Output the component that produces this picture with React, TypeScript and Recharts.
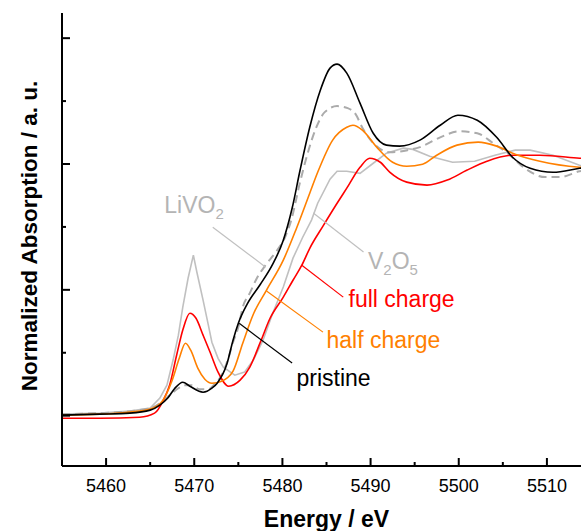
import React from "react";
import { LineChart, Line, XAxis, YAxis, ReferenceLine, ReferenceDot } from "recharts";

// Energy (eV), normalized absorption (a.u.)
const pristine: [number, number][] = [
  [5455.0, 0.002], [5459.3, 0.006], [5462.7, 0.01], [5465.0, 0.022], [5466.1, 0.042], [5467.0, 0.07],
  [5467.8, 0.109], [5468.7, 0.133], [5469.5, 0.117], [5471.0, 0.093], [5472.0, 0.109], [5472.6, 0.129],
  [5473.7, 0.205], [5474.4, 0.3], [5475.0, 0.367], [5476.0, 0.443], [5477.5, 0.522], [5478.9, 0.602],
  [5480.1, 0.697], [5481.1, 0.824], [5482.0, 0.975], [5483.1, 1.146], [5484.3, 1.293], [5485.4, 1.381],
  [5486.2, 1.397], [5487.3, 1.361], [5488.8, 1.242], [5490.3, 1.122], [5491.8, 1.075], [5493.3, 1.071],
  [5495.6, 1.095], [5497.9, 1.154], [5499.9, 1.194], [5502.1, 1.174], [5504.3, 1.106], [5506.1, 1.027],
  [5508.1, 0.983], [5510.7, 0.967], [5513.7, 0.983], [5514.5, 0.987],
];

const fullCharge: [number, number][] = [
  [5455.0, -0.01], [5459.3, -0.01], [5463.8, -0.006], [5465.5, 0.01], [5466.5, 0.062], [5467.2, 0.121],
  [5468.0, 0.24], [5468.7, 0.34], [5469.5, 0.407], [5470.2, 0.387], [5471.0, 0.32], [5471.8, 0.252],
  [5472.7, 0.173], [5473.9, 0.117], [5475.2, 0.141], [5476.3, 0.193], [5477.5, 0.292], [5478.6, 0.387],
  [5480.1, 0.471], [5481.2, 0.538], [5482.2, 0.598], [5483.1, 0.665], [5484.6, 0.753], [5486.2, 0.844],
  [5487.3, 0.904], [5488.8, 0.987], [5489.9, 1.023], [5491.1, 1.007], [5492.2, 0.967], [5494.1, 0.928],
  [5496.4, 0.916], [5498.7, 0.936], [5500.9, 0.975], [5503.2, 1.011], [5506.1, 1.035], [5509.2, 1.035],
  [5513.7, 1.023], [5514.5, 1.021],
];

const halfCharge: [number, number][] = [
  [5455.0, 0.002], [5459.3, 0.006], [5462.7, 0.014], [5465.0, 0.026], [5466.3, 0.054], [5467.5, 0.141],
  [5468.3, 0.228], [5469.0, 0.288], [5469.6, 0.26], [5470.4, 0.189], [5471.2, 0.145], [5472.0, 0.129],
  [5473.1, 0.137], [5474.4, 0.177], [5475.5, 0.288], [5476.7, 0.403], [5478.2, 0.499], [5480.1, 0.618],
  [5481.6, 0.745], [5483.1, 0.884], [5484.0, 0.967], [5485.7, 1.095], [5487.3, 1.146], [5488.0, 1.154],
  [5489.1, 1.134], [5490.7, 1.067], [5492.5, 1.007], [5494.1, 0.991], [5495.9, 0.999], [5497.5, 1.035],
  [5499.8, 1.075], [5502.2, 1.087], [5504.3, 1.071], [5506.4, 1.039], [5509.2, 1.011], [5513.7, 0.987],
  [5514.5, 0.985],
];

const v2o5: [number, number][] = [
  [5455.0, 0.006], [5459.3, 0.01], [5462.7, 0.018], [5465.0, 0.03], [5466.1, 0.07], [5466.9, 0.121],
  [5467.6, 0.221], [5468.2, 0.32], [5468.7, 0.431], [5469.3, 0.546], [5469.9, 0.638], [5470.3, 0.57],
  [5471.0, 0.459], [5471.6, 0.36], [5472.0, 0.292], [5472.7, 0.228], [5473.3, 0.193], [5474.6, 0.161],
  [5475.7, 0.173], [5476.7, 0.221], [5477.8, 0.3], [5478.9, 0.407], [5480.1, 0.511], [5481.2, 0.626],
  [5482.3, 0.709], [5483.3, 0.777], [5484.0, 0.844], [5485.4, 0.94], [5486.2, 0.971], [5487.3, 0.971],
  [5488.8, 0.963], [5490.3, 1.003], [5491.8, 1.043], [5493.7, 1.063], [5494.8, 1.058], [5496.7, 1.031],
  [5499.3, 1.007], [5501.8, 1.011], [5504.1, 1.035], [5506.4, 1.055], [5508.1, 1.055], [5510.7, 1.035],
  [5513.7, 0.995], [5514.5, 0.99],
];

const livo2: [number, number][] = [
  [5455.0, 0.006], [5459.3, 0.01], [5462.7, 0.018], [5465.0, 0.03], [5466.3, 0.054], [5467.2, 0.081],
  [5468.2, 0.109], [5468.8, 0.121], [5469.7, 0.121], [5470.6, 0.105], [5471.6, 0.105], [5472.3, 0.125],
  [5473.1, 0.161], [5473.8, 0.221], [5474.4, 0.292], [5475.0, 0.352], [5475.5, 0.431], [5476.3, 0.487],
  [5477.1, 0.546], [5478.0, 0.594], [5479.4, 0.657], [5480.3, 0.709], [5481.0, 0.777], [5482.0, 0.928],
  [5482.9, 1.047], [5483.8, 1.142], [5484.8, 1.206], [5486.2, 1.23], [5487.4, 1.222], [5488.3, 1.198],
  [5489.1, 1.142], [5490.3, 1.083], [5492.2, 1.047], [5494.2, 1.055], [5495.6, 1.067], [5497.9, 1.106],
  [5500.1, 1.13], [5502.1, 1.122], [5503.9, 1.083], [5505.8, 1.035], [5507.5, 0.983], [5509.8, 0.948],
  [5511.5, 0.948], [5513.7, 0.971], [5514.5, 0.975],
];

const xTicks = [5455, 5460, 5465, 5470, 5475, 5480, 5485, 5490, 5495, 5500, 5505, 5510, 5515];
const yTicks = [0, 0.25, 0.5, 0.75, 1, 1.25, 1.5];

// annotation: label text, anchor (E, y), leader start/end
type Anno = { key: string; color: string; E: number; y: number; seg: [number, number, number, number] };
const annotations: Anno[] = [
  { key: "LiVO2", color: "#b4b4b4", E: 5466.6, y: 0.805, seg: [5472.1, 0.749, 5478.1, 0.59] },
  { key: "V2O5", color: "#b4b4b4", E: 5489.7, y: 0.582, seg: [5483.5, 0.805, 5489.2, 0.65] },
  { key: "full charge", color: "#ff0000", E: 5487.5, y: 0.431, seg: [5482.2, 0.598, 5486.9, 0.471] },
  { key: "half charge", color: "#ff8000", E: 5485.0, y: 0.268, seg: [5478.2, 0.495, 5484.6, 0.332] },
  { key: "pristine", color: "#000000", E: 5481.6, y: 0.117, seg: [5475.1, 0.367, 5481.1, 0.209] },
];

const FONT = "'Liberation Sans', Arial, Helvetica, sans-serif";
const toObj = (arr: [number, number][]) => arr.map(([E, y]) => ({ E, y }));

const BottomTick = (props: any) => {
  const { x, y, payload } = props;
  const v = payload.value as number;
  const major = v % 10 === 0;
  return (
    <g>
      <line x1={x} x2={x} y1={y} y2={y - (major ? 8 : 4)} stroke="#000" strokeWidth={2} />
      {major && (
        <text x={x} y={y + 26} textAnchor="middle" fontSize={18} fontFamily={FONT} fill="#000">
          {v}
        </text>
      )}
    </g>
  );
};

const TopTick = (props: any) => {
  const { x, y, payload } = props;
  const v = payload.value as number;
  const major = v % 10 === 0;
  return <line x1={x} x2={x} y1={y} y2={y + (major ? 8 : 4)} stroke="#000" strokeWidth={2} />;
};

const LeftTick = (props: any) => {
  const { x, y, payload } = props;
  const v = payload.value as number;
  const major = Math.abs(v * 2 - Math.round(v * 2)) < 1e-6;
  return <line x1={x} x2={x + (major ? 8 : 4)} y1={y} y2={y} stroke="#000" strokeWidth={2} />;
};

const renderAnnoText = (a: Anno) => (p: any) => {
  const vb = p.viewBox || {};
  const x = (vb.x ?? 0) + (vb.width ?? 0) / 2;
  const y = (vb.y ?? 0) + (vb.height ?? 0) / 2;
  const common = { x, y, fill: a.color, fontSize: 23, fontFamily: FONT };
  if (a.key === "LiVO2") {
    return (
      <text {...common}>
        LiVO<tspan fontSize={15} dy={6}>2</tspan>
      </text>
    );
  }
  if (a.key === "V2O5") {
    return (
      <text {...common}>
        V<tspan fontSize={15} dy={6}>2</tspan>
        <tspan fontSize={23} dy={-6}>O</tspan>
        <tspan fontSize={15} dy={6}>5</tspan>
      </text>
    );
  }
  return <text {...common}>{a.key}</text>;
};

export default function App() {
  return (
    <div style={{ position: "absolute", left: 0, top: 0, width: 581, height: 531, overflow: "hidden", background: "#fff" }}>
      <LineChart width={620} height={531} margin={{ top: 13, right: 29, left: 0, bottom: 0 }}>
        <XAxis
          dataKey="E"
          type="number"
          domain={[5455, 5515]}
          ticks={xTicks}
          interval={0}
          allowDataOverflow
          height={65}
          tickSize={0}
          tickMargin={0}
          tickLine={false}
          axisLine={{ stroke: "#000", strokeWidth: 2 }}
          tick={BottomTick}
          label={{
            content: (p: any) => {
              const vb = p.viewBox || { x: 62, width: 529 };
              return (
                <text x={vb.x + vb.width / 2} y={527} textAnchor="middle" fontSize={23} fontWeight="bold" fontFamily={FONT} fill="#000">
                  Energy / eV
                </text>
              );
            },
          }}
        />
        <XAxis
          xAxisId="top"
          orientation="top"
          dataKey="E"
          type="number"
          domain={[5455, 5515]}
          ticks={xTicks}
          interval={0}
          allowDataOverflow
          height={0}
          tickSize={0}
          tickMargin={0}
          tickLine={false}
          axisLine={{ stroke: "#000", strokeWidth: 2 }}
          tick={TopTick}
        />
        <YAxis
          type="number"
          domain={[-0.2, 1.6]}
          ticks={yTicks}
          interval={0}
          allowDataOverflow
          width={62}
          tickSize={0}
          tickMargin={0}
          tickLine={false}
          axisLine={{ stroke: "#000", strokeWidth: 2 }}
          tick={LeftTick}
          label={{
            content: () => (
              <text x={37} y={236} transform="rotate(-90 37 236)" textAnchor="middle" fontSize={22.5} fontWeight="bold" fontFamily={FONT} fill="#000">
                Normalized Absorption / a. u.
              </text>
            ),
          }}
        />
        <Line data={toObj(v2o5)} dataKey="y" type="linear" stroke="#c0c0c0" strokeWidth={1.6} dot={false} activeDot={false} isAnimationActive={false} />
        <Line data={toObj(livo2)} dataKey="y" type="monotone" stroke="#ababab" strokeWidth={2} strokeDasharray="8 5" dot={false} activeDot={false} isAnimationActive={false} />
        <Line data={toObj(fullCharge)} dataKey="y" type="monotone" stroke="#ff0000" strokeWidth={1.6} dot={false} activeDot={false} isAnimationActive={false} />
        <Line data={toObj(halfCharge)} dataKey="y" type="monotone" stroke="#ff8000" strokeWidth={1.6} dot={false} activeDot={false} isAnimationActive={false} />
        <Line data={toObj(pristine)} dataKey="y" type="monotone" stroke="#000000" strokeWidth={1.6} dot={false} activeDot={false} isAnimationActive={false} />
        {annotations.map((a) => (
          <ReferenceLine
            key={"l" + a.key}
            segment={[{ x: a.seg[0], y: a.seg[1] }, { x: a.seg[2], y: a.seg[3] }]}
            stroke={a.color === "#b4b4b4" ? "#c0c0c0" : a.color}
            strokeWidth={1.2}
            ifOverflow="visible"
          />
        ))}
        {annotations.map((a) => (
          <ReferenceDot
            key={"t" + a.key}
            x={a.E}
            y={a.y}
            r={0}
            fill="none"
            stroke="none"
            ifOverflow="visible"
            label={{ content: renderAnnoText(a) }}
          />
        ))}
      </LineChart>
    </div>
  );
}
